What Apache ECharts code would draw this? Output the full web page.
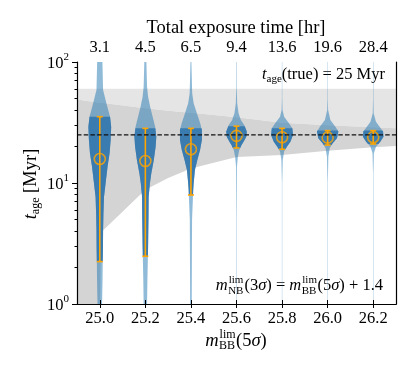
<!DOCTYPE html>
<html>
<head>
<meta charset="utf-8">
<script src="https://cdn.jsdelivr.net/npm/echarts@6.0.0/dist/echarts.min.js"></script>
<style>
html, body { margin: 0; padding: 0; background: #fff; }
#chart { width: 415px; height: 374px; }
</style>
</head>
<body>
<div id="chart"></div>
<script>
// 数据
const mags = [25.0, 25.2, 25.4, 25.6, 25.8, 26.0, 26.2];
const exposureHr = ['3.1', '4.5', '6.5', '9.4', '13.6', '19.6', '28.4'];
const ageMedian = [15.8, 15.2, 19.0, 24.5, 23.9, 23.7, 23.9];
const ageLow = [2.24, 2.48, 7.96, 19.5, 19.0, 20.6, 21.0];
const ageHigh = [35.3, 28.3, 28.3, 29.5, 28.3, 27.1, 27.1];
const trueAge = 25;
const yMinorTicks = [2, 3, 4, 5, 6, 7, 8, 9, 20, 30, 40, 50, 60, 70, 80, 90];

// 灰色区域
const bandTop = 60;
const bandMag = [24.9, 25.0, 25.005, 25.2, 25.3, 25.4, 25.6, 25.8, 26.0, 26.2, 26.3];
const bandUpper = [49, 46, 46, 41.4, 39.5, 38, 35, 31.5, 30, 28.9, 28.3];
const bandLower = [0.5, 0.5, 3.9, 8.8, 11.0, 13.2, 16.4, 17.0, 18.5, 19.7, 20.2];

// 小提琴轮廓: [年龄 Myr, 半宽 (mag)]
const violin250 = [[150, 0.011], [100, 0.0115], [58.7, 0.0145], [51.7, 0.022], [45.6, 0.029], [40.1, 0.037], [35.3, 0.045], [29.1, 0.050], [23.1, 0.048], [17.6, 0.043], [13.6, 0.034], [9.95, 0.0255], [7.7, 0.0185], [5.6, 0.016], [4.09, 0.0145], [2.98, 0.014], [2.24, 0.013], [1.58, 0.012], [1.01, 0.010], [0.6, 0.010]];
const violin252 = [[150, 0.004], [100, 0.0045], [62.5, 0.0075], [51.7, 0.012], [42.7, 0.021], [35.3, 0.032], [29.1, 0.043], [24.1, 0.048], [19.9, 0.045], [15.5, 0.037], [12.0, 0.026], [9.95, 0.02], [7.7, 0.0145], [5.6, 0.014], [4.09, 0.013], [2.98, 0.012], [1.58, 0.009], [1.01, 0.0075], [0.6, 0.007]];
const violin254 = [[150, 0.0015], [100, 0.002], [55.1, 0.0055], [45.6, 0.012], [37.7, 0.026], [31.1, 0.041], [27.4, 0.048], [22.7, 0.048], [18.7, 0.040], [15.5, 0.028], [12.8, 0.0175], [9.95, 0.012], [8.75, 0.010], [5, 0.005], [2, 0.004], [1, 0.0035], [0.6, 0.0035]];
const violin256 = [[150, 0.0009], [60, 0.0012], [45.6, 0.003], [37.7, 0.009], [33.2, 0.019], [30.2, 0.034], [26.6, 0.045], [24.1, 0.043], [21.9, 0.031], [20.6, 0.022], [18.7, 0.012], [16.5, 0.006], [13.6, 0.002], [5, 0.0009], [0.6, 0.0009]];
const violin258 = [[150, 0.0008], [50, 0.0008], [40.1, 0.002], [35.3, 0.009], [31.1, 0.031], [28.3, 0.045], [24.9, 0.048], [21.9, 0.0365], [19.9, 0.021], [18.2, 0.009], [15.5, 0.003], [10, 0.0008], [0.6, 0.0008]];
const violin260 = [[150, 0.0008], [50, 0.0008], [40.1, 0.002], [33.2, 0.012], [29.2, 0.034], [26.6, 0.047], [23.4, 0.041], [21.3, 0.022], [19.4, 0.009], [16.5, 0.003], [10, 0.0008], [0.6, 0.0008]];
const violin262 = [[150, 0.0008], [50, 0.0008], [37.7, 0.002], [32.1, 0.012], [29.2, 0.028], [26.6, 0.043], [24.1, 0.045], [21.9, 0.031], [19.9, 0.012], [17.6, 0.003], [12, 0.0008], [0.6, 0.0008]];
const violins = [violin250, violin252, violin254, violin256, violin258, violin260, violin262];

const SERIF = '"Liberation Serif", "DejaVu Serif", serif';
const ORANGE = '#ffa500';

// 轮廓在 lo~hi 之间的部分（对数插值）
function clipProfile(prof, lo, hi) {
    const at = (a) => {
        for (let i = 0; i < prof.length - 1; i++) {
            const p = prof[i], q = prof[i + 1];
            if (p[0] >= a && a >= q[0]) {
                const t = (Math.log(p[0]) - Math.log(a)) / (Math.log(p[0]) - Math.log(q[0]));
                return p[1] + t * (q[1] - p[1]);
            }
        }
        return 0;
    };
    const out = [[hi, at(hi)]];
    prof.forEach(p => { if (p[0] < hi && p[0] > lo) out.push(p); });
    out.push([lo, at(lo)]);
    return out;
}

function violinPoints(pos, pts, api) {
    const right = pts.map(p => api.coord([pos + p[1], p[0]]));
    const left = pts.slice().reverse().map(p => api.coord([pos - p[1], p[0]]));
    return right.concat(left);
}

// 带上下标的文字，用 canvas 量宽度后逐段排
const measure = document.createElement('canvas').getContext('2d');
function tw(text, size, italic) {
    measure.font = (italic ? 'italic ' : '') + size + 'px ' + SERIF;
    return measure.measureText(text).width;
}
function mathText(pieces, x, y, align) {
    let w = 0;
    const laid = [];
    pieces.forEach(p => {
        if (p.sup !== undefined) {
            laid.push({ t: p.sup, size: p.size, dx: w + 1, dy: -6 });
            laid.push({ t: p.sub, size: p.size, dx: w + 0.5, dy: 5 });
            w += Math.max(tw(p.sup, p.size), tw(p.sub, p.size)) + 1.5;
        } else {
            laid.push({ t: p.t, size: p.size, it: p.it, dx: w, dy: p.dy || 0 });
            w += tw(p.t, p.size, p.it);
        }
    });
    const x0 = align === 'right' ? x - w : (align === 'center' ? x - w / 2 : x);
    return laid.map(l => ({
        type: 'text',
        x: x0 + l.dx,
        y: y + l.dy,
        style: {
            text: l.t, fontSize: l.size, fontStyle: l.it ? 'italic' : 'normal',
            fontFamily: SERIF, fill: '#000', align: 'left', verticalAlign: 'middle'
        }
    }));
}

const chart = echarts.init(document.getElementById('chart'));

const tickLabel = { color: '#000', fontFamily: SERIF, fontSize: 16.5 };

const option = {
    animation: false,
    grid: { left: 77, right: 19, top: 62, bottom: 70 },
    xAxis: [
        {
            type: 'value', position: 'bottom', min: 24.9, max: 26.3, z: 10,
            axisLine: { show: true, lineStyle: { color: '#000', width: 1.2 } },
            axisTick: { show: true, customValues: mags, length: 4, lineStyle: { color: '#000' } },
            axisLabel: Object.assign({ customValues: mags, formatter: v => v.toFixed(1), margin: 6 }, tickLabel),
            splitLine: { show: false }
        },
        {
            type: 'value', position: 'top', min: 24.9, max: 26.3, z: 10,
            axisLine: { show: true, lineStyle: { color: '#000', width: 1.2 } },
            axisTick: { show: true, customValues: mags, length: 4, lineStyle: { color: '#000' } },
            axisLabel: Object.assign({
                customValues: mags, margin: 6,
                formatter: v => exposureHr[mags.findIndex(m => Math.abs(m - v) < 1e-6)]
            }, tickLabel),
            splitLine: { show: false }
        }
    ],
    yAxis: [
        {
            type: 'log', logBase: 10, min: 1, max: 100, position: 'left', z: 10,
            axisLine: { show: true, lineStyle: { color: '#000', width: 1.2 } },
            axisTick: { show: true, length: 5, lineStyle: { color: '#000' } },
            axisLabel: {
                margin: 8,
                formatter: v => '{b|10}{s|' + Math.round(Math.log10(v)) + '}',
                rich: {
                    b: { fontFamily: SERIF, fontSize: 16.5, color: '#000', lineHeight: 20, verticalAlign: 'bottom' },
                    s: { fontFamily: SERIF, fontSize: 11, color: '#000', lineHeight: 20, verticalAlign: 'top', padding: [0, 0, 8, 0] }
                }
            },
            splitLine: { show: false }
        },
        {
            // 副刻度（log10 空间）
            type: 'value', min: 0, max: 2, position: 'left', z: 10,
            axisLine: { show: false },
            axisTick: { show: true, customValues: yMinorTicks.map(Math.log10), length: 2.5, lineStyle: { color: '#000' } },
            axisLabel: { show: false },
            splitLine: { show: false }
        },
        {
            type: 'value', min: 0, max: 1, position: 'right', z: 10,
            axisLine: { show: true, lineStyle: { color: '#000', width: 1.2 } },
            axisTick: { show: false }, axisLabel: { show: false }, splitLine: { show: false }
        }
    ],
    series: [
        {
            // 灰色区域
            type: 'custom', clip: true, silent: true,
            data: [[25.6, trueAge]],
            renderItem: (params, api) => {
                const up = bandMag.map((m, i) => api.coord([m, bandUpper[i]]));
                const low = bandMag.map((m, i) => api.coord([m, bandLower[i]]));
                const top = [api.coord([bandMag[bandMag.length - 1], bandTop]), api.coord([bandMag[0], bandTop])];
                return {
                    type: 'group',
                    children: [
                        { type: 'polygon', shape: { points: up.concat(top) }, style: { fill: '#e5e5e5' } },
                        { type: 'polygon', shape: { points: up.concat(low.slice().reverse()) }, style: { fill: '#d4d4d4' } }
                    ]
                };
            }
        },
        {
            // 小提琴
            type: 'custom', clip: true, silent: true,
            data: mags.map((m, i) => [m, ageMedian[i]]),
            renderItem: (params, api) => {
                const i = params.dataIndex;
                return {
                    type: 'group',
                    children: [
                        { type: 'polygon', shape: { points: violinPoints(mags[i], violins[i], api) }, style: { fill: 'rgba(31,119,180,0.5)' } },
                        { type: 'polygon', shape: { points: violinPoints(mags[i], clipProfile(violins[i], ageLow[i], ageHigh[i]), api) }, style: { fill: '#3a7bb0' } }
                    ]
                };
            }
        },
        {
            type: 'line', symbol: 'none', silent: true,
            data: [[24.9, trueAge], [26.3, trueAge]],
            lineStyle: { color: '#111', width: 1.3, type: [4.5, 2.2] }
        },
        {
            // 误差棒
            type: 'custom', silent: true,
            data: mags.map((m, i) => [m, ageMedian[i]]),
            renderItem: (params, api) => {
                const i = params.dataIndex;
                const a = api.coord([mags[i], ageHigh[i]]);
                const b = api.coord([mags[i], ageLow[i]]);
                const st = { stroke: ORANGE, lineWidth: 1.6 };
                return {
                    type: 'group',
                    children: [
                        { type: 'line', shape: { x1: a[0], y1: a[1], x2: b[0], y2: b[1] }, style: st },
                        { type: 'line', shape: { x1: a[0] - 3, y1: a[1], x2: a[0] + 3, y2: a[1] }, style: st },
                        { type: 'line', shape: { x1: b[0] - 3, y1: b[1], x2: b[0] + 3, y2: b[1] }, style: st }
                    ]
                };
            }
        },
        {
            type: 'scatter', silent: true,
            data: mags.map((m, i) => [m, ageMedian[i]]),
            symbol: 'circle', symbolSize: 11,
            itemStyle: { color: 'rgba(0,0,0,0)', borderColor: ORANGE, borderWidth: 1.6 }
        }
    ],
    graphic: [
        {
            type: 'text', x: 236, y: 28, z: 20,
            style: { text: 'Total exposure time [hr]', fontFamily: SERIF, fontSize: 18.5, fill: '#000', align: 'center', verticalAlign: 'middle' }
        },
        {
            type: 'group', z: 20,
            children: mathText([
                { t: 't', size: 16.5, it: true },
                { t: 'age', size: 11, dy: 4 },
                { t: '(true) = 25 Myr', size: 16.5 }
            ], 385, 75, 'right')
        },
        {
            type: 'group', z: 20,
            children: mathText([
                { t: 'm', size: 16.5, it: true },
                { sup: 'lim', sub: 'NB', size: 11 },
                { t: '(3', size: 16.5 },
                { t: 'σ', size: 16.5, it: true },
                { t: ') = ', size: 16.5 },
                { t: 'm', size: 16.5, it: true },
                { sup: 'lim', sub: 'BB', size: 11 },
                { t: '(5', size: 16.5 },
                { t: 'σ', size: 16.5, it: true },
                { t: ') + 1.4', size: 16.5 }
            ], 383, 286, 'right')
        },
        {
            type: 'group', z: 20,
            children: mathText([
                { t: 'm', size: 18.5, it: true },
                { sup: 'lim', sub: 'BB', size: 12 },
                { t: '(5', size: 18.5 },
                { t: 'σ', size: 18.5, it: true },
                { t: ')', size: 18.5 }
            ], 236, 341, 'center')
        },
        {
            type: 'group', x: 31, y: 184, rotation: Math.PI / 2, z: 20,
            children: mathText([
                { t: 't', size: 18.5, it: true },
                { t: 'age', size: 12, dy: 5 },
                { t: ' [Myr]', size: 18.5 }
            ], 0, 0, 'center')
        }
    ]
};

chart.setOption(option);
</script>
</body>
</html>
